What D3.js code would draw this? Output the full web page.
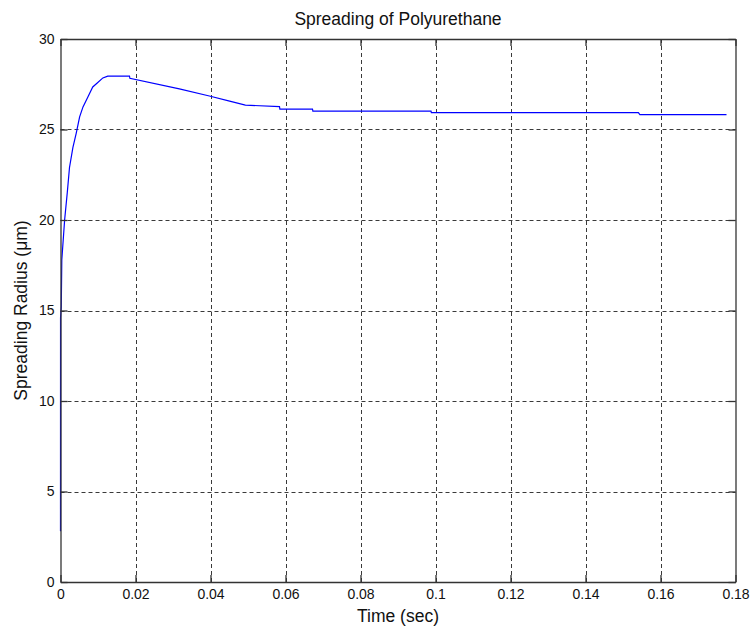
<!DOCTYPE html>
<html>
<head>
<meta charset="utf-8">
<script src="https://cdn.jsdelivr.net/npm/d3@7/dist/d3.min.js"></script>
<style>
  html, body { margin: 0; padding: 0; background: #fff; }
  svg { display: block; }
  text { font-family: "Liberation Sans", Arial, sans-serif; }
</style>
</head>
<body>
<script>
// ---- Data ----
const timeSec = [0, 0.00001, 0.0002, 0.00035, 0.0011, 0.0018, 0.0024, 0.0033, 0.0042, 0.0051,
  0.0060, 0.0073, 0.0086, 0.0098, 0.0113, 0.0126, 0.0184, 0.0185, 0.0317, 0.0397, 0.0451,
  0.0493, 0.0584, 0.0585, 0.0672, 0.0673, 0.0988, 0.0989, 0.1541, 0.1545, 0.1776];
const radiusUm = [2.8, 14.6, 15.2, 17.8, 20.0, 21.5, 22.9, 24.0, 24.8, 25.7,
  26.25, 26.8, 27.35, 27.57, 27.85, 27.95, 27.95, 27.83, 27.24, 26.85, 26.57,
  26.35, 26.26, 26.13, 26.13, 26.02, 26.02, 25.93, 25.93, 25.82, 25.82];
const xTicks = [0, 0.02, 0.04, 0.06, 0.08, 0.1, 0.12, 0.14, 0.16, 0.18];
const xTickLabels = ["0", "0.02", "0.04", "0.06", "0.08", "0.1", "0.12", "0.14", "0.16", "0.18"];
const yTicks = [0, 5, 10, 15, 20, 25, 30];
const titleText = "Spreading of Polyurethane";
const xLabelText = "Time (sec)";
const yLabelText = "Spreading Radius (\u03bcm)";

// ---- Layout ----
const W = 751, H = 628;
const L = 60.5, R = 735.5, T = 39, B = 582;

const svg = d3.select("body").append("svg").attr("width", W).attr("height", H);
svg.append("rect").attr("width", W).attr("height", H).attr("fill", "#fff");

const x = d3.scaleLinear().domain([0, 0.18]).range([L, R]);
const y = d3.scaleLinear().domain([0, 30]).range([B, T]);

const gridColor = "#3a3a3a";
const axisColor = "#333";

// grid
const grid = svg.append("g");
xTicks.forEach(t => {
  if (t === 0 || t === 0.18) return;
  grid.append("line").attr("x1", Math.round(x(t)) + 0.5).attr("x2", Math.round(x(t)) + 0.5)
    .attr("y1", T).attr("y2", B)
    .attr("stroke", gridColor).attr("stroke-width", 1).attr("stroke-dasharray", "4,3");
});
yTicks.forEach(t => {
  if (t === 0 || t === 30) return;
  grid.append("line").attr("y1", Math.round(y(t)) + 0.5).attr("y2", Math.round(y(t)) + 0.5)
    .attr("x1", L).attr("x2", R)
    .attr("stroke", gridColor).attr("stroke-width", 1).attr("stroke-dasharray", "4,3");
});

// data line
const line = d3.line().x((d, i) => x(timeSec[i])).y((d, i) => y(radiusUm[i]));
svg.append("path").datum(radiusUm).attr("d", line)
  .attr("fill", "none").attr("stroke", "#0000ff").attr("stroke-width", 1.2);

// axes (bottom and left with labels, top and right with inward ticks only)
const tickLen = 7;
const xAxisB = d3.axisBottom(x).tickValues(xTicks).tickFormat((d, i) => xTickLabels[i])
  .tickSizeInner(-tickLen).tickSizeOuter(0).tickPadding(7);
const xAxisT = d3.axisTop(x).tickValues(xTicks).tickFormat("")
  .tickSizeInner(-tickLen).tickSizeOuter(0);
const yAxisL = d3.axisLeft(y).tickValues(yTicks).tickFormat(d3.format("d"))
  .tickSizeInner(-tickLen).tickSizeOuter(0).tickPadding(6);
const yAxisR = d3.axisRight(y).tickValues(yTicks).tickFormat("")
  .tickSizeInner(-tickLen).tickSizeOuter(0);

function styleAxis(g) {
  g.selectAll("path").attr("stroke", axisColor).attr("stroke-width", 1.3);
  g.selectAll("line").attr("stroke", axisColor).attr("stroke-width", 1.3);
  g.selectAll("text").attr("fill", "#111").style("font-size", "14px")
    .style("font-family", "'Liberation Sans', Arial, sans-serif");
}
svg.append("g").attr("transform", `translate(0,${B})`).call(xAxisB).call(styleAxis);
svg.append("g").attr("transform", `translate(0,${T})`).call(xAxisT).call(styleAxis);
svg.append("g").attr("transform", `translate(${L},0)`).call(yAxisL).call(styleAxis);
svg.append("g").attr("transform", `translate(${R},0)`).call(yAxisR).call(styleAxis);

// titles
svg.append("text").attr("x", (L + R) / 2).attr("y", 25).attr("text-anchor", "middle")
  .style("font-size", "17.5px").attr("fill", "#111").text(titleText);
svg.append("text").attr("x", (L + R) / 2).attr("y", 622).attr("text-anchor", "middle")
  .style("font-size", "17.5px").attr("fill", "#111").text(xLabelText);
svg.append("text").attr("transform", `translate(27,${(T + B) / 2}) rotate(-90)`)
  .attr("text-anchor", "middle").style("font-size", "17.5px").attr("fill", "#111").text(yLabelText);
</script>
</body>
</html>
